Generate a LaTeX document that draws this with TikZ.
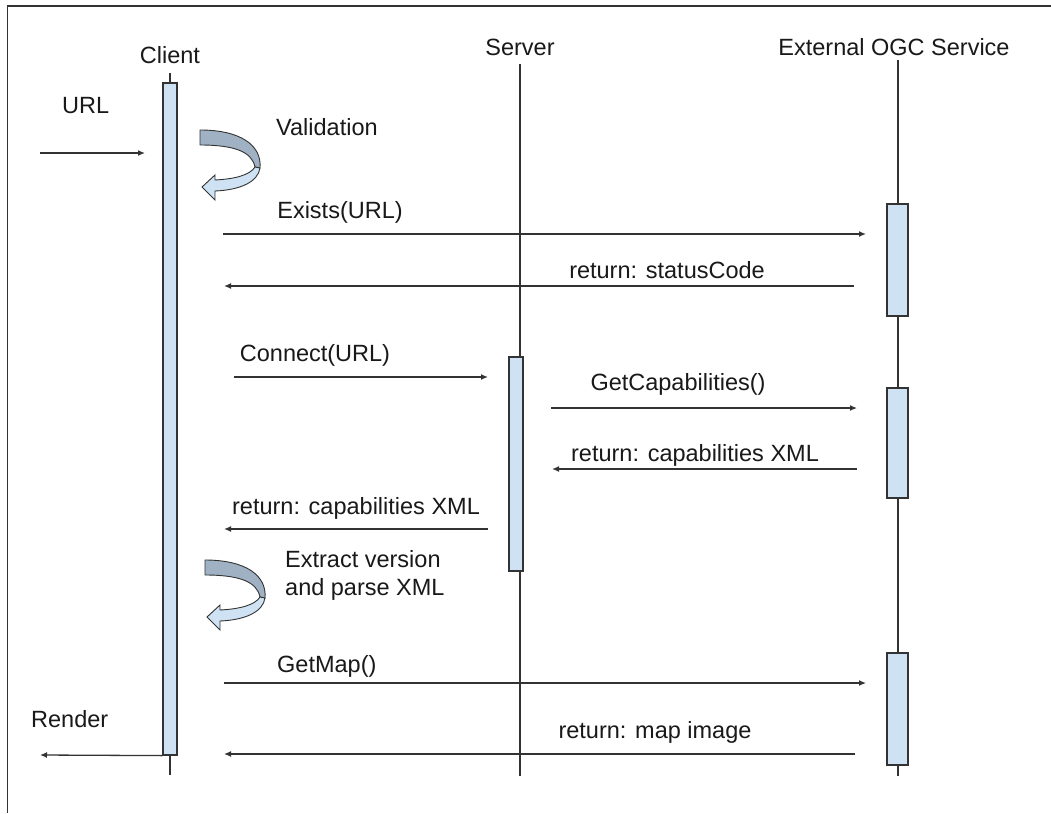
\documentclass[tikz,border=0pt]{standalone}
\usepackage{fontspec}
\setmainfont{Liberation Sans}
\usetikzlibrary{arrows.meta}
\definecolor{barfill}{HTML}{CFE2F3}
\definecolor{ink}{HTML}{333333}
\definecolor{turndark}{HTML}{9FB1C3}
\definecolor{turnlight}{HTML}{CFE2F3}
\tikzset{
  lbl/.style={text=black!90, inner sep=0pt},
  head/.style={lbl},
  life/.style={draw=ink, line width=1.2pt},
  actbar/.style={draw=ink, fill=barfill, line width=1.2pt, inner sep=0pt, minimum width=14pt},
  msg/.style={draw=ink, line width=1.3pt, -{Latex[length=7pt,width=6pt]}},
  turnedge/.style={draw=ink, line width=0.9pt}
}
% self-call U-turn arrow, drawn from its upper-left corner
\newcommand\selfturn[2]{%
  \begin{scope}[shift={(#1,#2)}]
    \path[turnedge, fill=turndark] (0,0) .. controls (40,0) and (62,15) .. (60,38)
      -- (55,37) .. controls (52,22) and (35,15) .. (0,15) -- cycle;
    \path[turnedge, fill=turnlight] (60,38) .. controls (58,52) and (40,60) .. (15,61)
      -- (15,70) -- (2,57) -- (15,45) -- (15,50)
      .. controls (35,49) and (50,45) .. (55,37) -- cycle;
  \end{scope}}
\begin{document}
\begin{tikzpicture}[x=1pt, y=-1pt, font=\fontsize{23.5}{28}\selectfont]
\useasboundingbox (0,0) rectangle (1051,813);
\fill[white] (0,0) rectangle (1051,813);
% frame
\draw[ink, line width=1.8pt] (7.5,813) -- (7.5,6) -- (1051,6);

% participants
\node[head] (client) at (170,55) {Client};
\node[head] (server) at (520,47) {Server};
\node[head] (ext) at (894,47) {External OGC Service};

% lifelines
\coordinate (clientTop) at (170,73);  \coordinate (clientEnd) at (170,775);
\coordinate (serverTop) at (520,64);  \coordinate (serverEnd) at (520,776);
\coordinate (extTop) at (898,60);     \coordinate (extEnd) at (898,776);
\draw[life] (clientTop) -- (clientEnd);
\draw[life] (serverTop) -- (serverEnd);
\draw[life] (extTop) -- (extEnd);

% activation bars
\node[actbar, minimum height=672pt] (cbar) at (170,419) {};
\node[actbar, minimum height=214pt] (sbar) at (516,464) {};
\node[actbar, minimum width=21pt, minimum height=112pt] (ebar1) at (897.5,260) {};
\node[actbar, minimum width=21pt, minimum height=110pt] (ebar2) at (897.5,443) {};
\node[actbar, minimum width=21pt, minimum height=112pt] (ebar3) at (897.5,709) {};

% message end points
\coordinate (urlS) at (40,153);   \coordinate (urlE) at (145,153);
\coordinate (exS) at (223,234);   \coordinate (exE) at (866,234);
\coordinate (stS) at (854,286);   \coordinate (stE) at (224,286);
\coordinate (coS) at (234,377);   \coordinate (coE) at (488,377);
\coordinate (gcS) at (551,408);   \coordinate (gcE) at (857,408);
\coordinate (rcS) at (857,469);   \coordinate (rcE) at (552,469);
\coordinate (rlS) at (488,529);   \coordinate (rlE) at (224,529);
\coordinate (gmS) at (224,683);   \coordinate (gmE) at (866,683);
\coordinate (miS) at (855,754);   \coordinate (miE) at (224,754);
\coordinate (reE) at (40,755);

% messages
\draw[msg] (urlS) -- (urlE);
\draw[msg] (exS) -- (exE);
\draw[msg] (stS) -- (stE);
\draw[msg] (coS) -- (coE);
\draw[msg] (gcS) -- (gcE);
\draw[msg] (rcS) -- (rcE);
\draw[msg] (rlS) -- (rlE);
\draw[msg] (gmS) -- (gmE);
\draw[msg] (miS) -- (miE);
\draw[msg] (cbar.south west) -- (reE);

% message labels
\node[lbl, anchor=west] (tUrl) at (62,106) {URL};
\node[lbl, anchor=west] (tVal) at (276,127) {Validation};
\node[lbl] (tEx) at (340,212) {Exists(URL)};
\node[lbl] (tSt) at (667,270) {return: statusCode};
\node[lbl] (tCo) at (315,355) {Connect(URL)};
\node[lbl] (tGc) at (678,384) {GetCapabilities()};
\node[lbl] (tRc) at (695,455) {return: capabilities XML};
\node[lbl] (tRl) at (356,508) {return: capabilities XML};
\node[lbl, anchor=base west, align=left] (tXv) at (285,595) {Extract version\\and parse XML};
\node[lbl, anchor=west] (tGm) at (277,666) {GetMap()};
\node[lbl, anchor=west] (tRe) at (31,719) {Render};
\node[lbl] (tMi) at (655,732) {return: map image};

% self-calls on the client
\selfturn{200}{130}
\selfturn{205}{560}
\end{tikzpicture}
\end{document}
